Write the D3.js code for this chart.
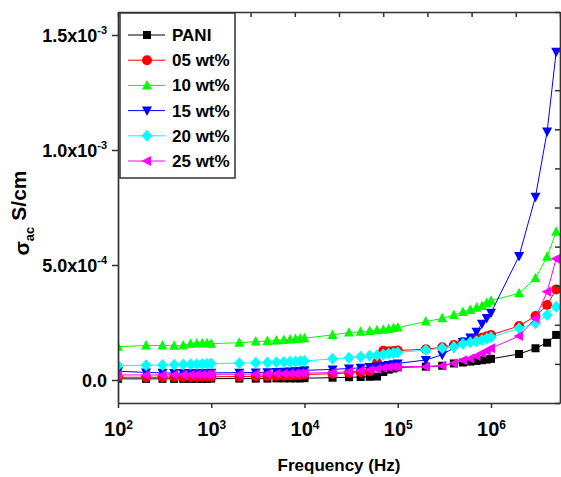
<!DOCTYPE html>
<html><head><meta charset="utf-8">
<script src="https://cdn.jsdelivr.net/npm/d3@7"></script>
<style>
html,body{margin:0;padding:0;background:#fff;}
svg{display:block;font-family:"Liberation Sans",Arial,sans-serif;font-weight:bold;}
</style></head>
<body>
<svg id="chart" width="561" height="477"></svg>
<script>
// Frequency (Hz)
const freq = [100,200,300,400,500,600,700,800,900,
  1000,2000,3000,4000,5000,6000,7000,8000,9000,
  10000,20000,30000,40000,50000,60000,70000,80000,90000,
  100000,200000,300000,400000,500000,600000,700000,800000,900000,
  1000000,2000000,3000000,4000000,5000000];
// sigma_ac in units of 1e-4 S/cm
const pani = [0.05,0.05,0.05,0.05,0.05,0.05,0.05,0.05,0.05,
  0.06,0.06,0.06,0.06,0.07,0.07,0.07,0.07,0.07,
  0.08,0.10,0.12,0.13,0.14,0.15,0.35,0.45,0.50,
  0.55,0.58,0.62,0.72,0.76,0.80,0.83,0.86,0.89,
  0.92,1.13,1.38,1.62,1.96];
const wt05 = [0.12,0.12,0.12,0.13,0.13,0.13,0.13,0.14,0.14,
  0.14,0.15,0.16,0.17,0.18,0.19,0.20,0.21,0.22,
  0.24,0.27,0.31,0.35,0.38,0.75,1.27,1.25,1.26,
  1.28,1.34,1.42,1.52,1.65,1.72,1.78,1.84,1.90,
  1.96,2.35,2.78,3.26,3.94];
const wt10 = [1.45,1.50,1.50,1.49,1.50,1.58,1.59,1.60,1.60,
  1.58,1.62,1.67,1.70,1.72,1.74,1.76,1.78,1.80,
  1.82,1.96,2.06,2.10,2.13,2.16,2.19,2.22,2.26,
  2.28,2.54,2.68,2.83,2.96,3.04,3.14,3.22,3.35,
  3.45,3.77,4.42,5.36,6.45];
const wt15 = [0.38,0.33,0.31,0.30,0.30,0.30,0.30,0.30,0.30,
  0.31,0.32,0.33,0.34,0.35,0.36,0.37,0.38,0.39,
  0.42,0.46,0.50,0.53,0.56,0.59,0.62,0.65,0.68,
  0.72,0.87,1.10,1.40,1.65,1.85,2.10,2.45,2.70,
  2.92,5.39,7.97,10.80,14.27];
const wt20 = [0.63,0.64,0.65,0.66,0.67,0.68,0.69,0.70,0.71,
  0.72,0.73,0.75,0.76,0.77,0.78,0.79,0.80,0.81,
  0.83,0.92,0.97,1.01,1.05,1.08,1.11,1.14,1.17,
  1.20,1.30,1.38,1.45,1.58,1.64,1.69,1.74,1.80,
  1.86,2.25,2.47,2.83,3.19];
const wt25 = [0.22,0.22,0.22,0.23,0.23,0.23,0.24,0.24,0.24,
  0.25,0.25,0.26,0.26,0.27,0.27,0.28,0.28,0.29,
  0.30,0.32,0.36,0.40,0.44,0.48,0.52,0.55,0.58,
  0.58,0.58,0.62,0.73,0.86,0.94,1.04,1.16,1.27,
  1.38,1.91,2.68,3.84,5.27];

const seriesNames = ["PANI","05 wt%","10 wt%","15 wt%","20 wt%","25 wt%"];
const seriesColors = ["#000000","#ff0000","#00ff00","#0000ff","#00ffff","#ff00ff"];
const seriesMarkers = ["square","circle","triUp","triDown","diamond","triLeft"];
const seriesValues = [pani, wt05, wt10, wt15, wt20, wt25];

const yTickValues = [0, 5, 10, 15];
const yTickMain = ["0.0", "5.0x10", "1.0x10", "1.5x10"];
const yTickExp = ["", "-4", "-3", "-3"];
const xTickValues = [1e2, 1e3, 1e4, 1e5, 1e6];
const xTickExp = ["2", "3", "4", "5", "6"];

const L = 118, R = 560, T = 12, B = 403;
const svg = d3.select("#chart");
const x = d3.scaleLog().domain([100, Math.pow(10, 6.74)]).range([L, R]);
const y = d3.scaleLinear().domain([-1, 16]).range([B, T]);

const axisColor = "#333";

const markerPath = {
  square: "M-4,-4H4V4H-4Z",
  circle: "M5,0A5,5 0 1,1 -5,0A5,5 0 1,1 5,0Z",
  triUp: "M0,-5.5L5,4L-5,4Z",
  triDown: "M0,5.5L5,-4L-5,-4Z",
  diamond: "M0,-6L5.5,0L0,6L-5.5,0Z",
  triLeft: "M-5.5,0L4,-5L4,5Z"
};

// plot clip
svg.append("defs").append("clipPath").attr("id","clip")
  .append("rect").attr("x", L).attr("y", T).attr("width", R - L).attr("height", B - T);

const plot = svg.append("g").attr("clip-path","url(#clip)");
const line = d3.line().x(d => x(d[0])).y(d => y(d[1]));

seriesValues.forEach((vals, si) => {
  const pts = freq.map((f, i) => [f, vals[i]]);
  const g = plot.append("g");
  g.append("path").datum(pts).attr("d", line)
    .attr("fill","none").attr("stroke", seriesColors[si]).attr("stroke-width", 1);
  g.selectAll("path.m").data(pts).enter().append("path").attr("class","m")
    .attr("d", markerPath[seriesMarkers[si]])
    .attr("transform", d => `translate(${x(d[0])},${y(d[1])})`)
    .attr("fill", seriesColors[si]);
});

// Axes
const styleAxis = g => {
  g.selectAll(".domain").attr("stroke", axisColor).attr("stroke-width", 1.7);
  g.selectAll(".tick line").attr("stroke", axisColor).attr("stroke-width", 1.5);
};

const yAxis = svg.append("g").attr("transform", `translate(${L},0)`)
  .call(d3.axisLeft(y).tickValues(yTickValues).tickSize(6).tickSizeOuter(0).tickPadding(5))
  .call(styleAxis);
yAxis.selectAll(".tick text").each(function(d, i) {
  const t = d3.select(this).text(yTickMain[i])
    .attr("font-size", 18).attr("font-family", '"Liberation Sans",Arial,sans-serif')
    .attr("font-weight","bold").attr("fill","#000").attr("dy","0.36em");
  if (yTickExp[i]) t.append("tspan").attr("dy","-0.75em").attr("font-size", 11).text(yTickExp[i]);
});

const xAxis = svg.append("g").attr("transform", `translate(0,${B})`)
  .call(d3.axisBottom(x).tickValues(xTickValues).tickSize(5).tickSizeOuter(0).tickPadding(10).tickFormat(""))
  .call(styleAxis);
xAxis.selectAll(".tick").each(function(d, i) {
  const t = d3.select(this).append("text").attr("y", 33).attr("text-anchor","middle")
    .attr("font-size", 20).attr("fill","#000");
  t.append("tspan").text("10");
  t.append("tspan").attr("dy","-0.6em").attr("font-size", 12).text(xTickExp[i]);
});

// top and right mirror axes with 10 equal divisions, inward ticks
const xTop = d3.scaleLinear().domain([0, 10]).range([L, R]);
const yRight = d3.scaleLinear().domain([0, 10]).range([B, T]);
svg.append("g").attr("transform", `translate(0,${T})`)
  .call(d3.axisBottom(xTop).ticks(10).tickSize(5).tickSizeOuter(0).tickFormat(""))
  .call(styleAxis);
svg.append("g").attr("transform", `translate(${R},0)`)
  .call(d3.axisLeft(yRight).ticks(10).tickSize(5).tickSizeOuter(0).tickFormat(""))
  .call(styleAxis);

// Axis titles
svg.append("text").attr("x", 339).attr("y", 471).attr("text-anchor","middle")
  .attr("font-size", 17).text("Frequency (Hz)");
const yt = svg.append("text").attr("transform","translate(29,213) rotate(-90)")
  .attr("text-anchor","middle").attr("font-size", 21);
yt.append("tspan").text("σ");
yt.append("tspan").attr("dy","0.4em").attr("font-size", 13).text("ac");
yt.append("tspan").attr("dy","-0.4em").attr("dx", 6).text("S/cm");

// Legend
const lg = svg.append("g");
lg.append("rect").attr("x", 120).attr("y", 13).attr("width", 115).attr("height", 165)
  .attr("fill","#fff").attr("stroke", axisColor).attr("stroke-width", 1.5);
const rowY = d3.scalePoint().domain(d3.range(seriesNames.length)).range([35, 161]);
seriesNames.forEach((name, i) => {
  const yy = rowY(i);
  lg.append("line").attr("x1", 128).attr("x2", 165).attr("y1", yy).attr("y2", yy)
    .attr("stroke", seriesColors[i]).attr("stroke-width", 1);
  lg.append("path").attr("d", markerPath[seriesMarkers[i]])
    .attr("transform", `translate(147,${yy})`).attr("fill", seriesColors[i]);
  lg.append("text").attr("x", 172).attr("y", yy + 6).attr("font-size", 17).text(name);
});
</script>
</body></html>
